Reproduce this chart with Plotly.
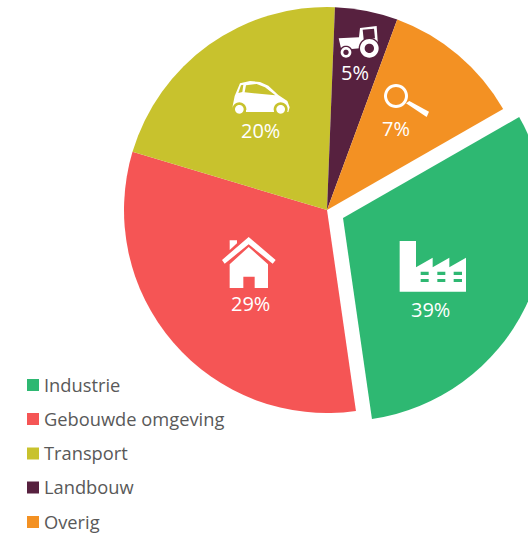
import math
import plotly.graph_objects as go

categories = ["Industrie", "Gebouwde omgeving", "Transport", "Landbouw", "Overig"]
drawn_shares = [31.0, 31.9, 21.0, 5.0, 11.1]
percent_labels = ["39%", "29%", "20%", "5%", "7%"]
colors = ["#2EB872", "#F55555", "#C8C22D", "#57213F", "#F39123"]
START_ANGLE = 60.2

W, H = 560, 533
R = 203
main_c = (327, 210)
pull_c = (343, 218)
label_pos = [(430.5, 309), (250, 303), (260, 130), (355, 72), (396, 129)]
legend_y = [385, 419, 453.5, 487.5, 522]
FONT = "Open Sans, sans-serif"
TRANSPARENT = "rgba(0,0,0,0)"


def px(x, y):
    return f"{x / W:.5f} {1 - y / H:.5f}"


def poly(points):
    return "M" + " L".join(px(x, y) for x, y in points) + " Z"


def circle_pts(cx, cy, r, n=36):
    return [(cx + r * math.cos(2 * math.pi * i / n), cy + r * math.sin(2 * math.pi * i / n)) for i in range(n)]


def z1(points):
    return [(210 + x / 3, 20 + y / 3) for x, y in points]


def z2(points):
    return [(210 + x / 3, 225 + y / 3) for x, y in points]


def icon(path, color="white"):
    return dict(type="path", xref="paper", yref="paper", path=path, fillcolor=color,
                line=dict(width=0), fillrule="evenodd", layer="above")


def domain(c):
    return dict(x=[(c[0] - R) / W, (c[0] + R) / W], y=[1 - (c[1] + R) / H, 1 - (c[1] - R) / H])


fig = go.Figure()
common = dict(labels=categories, values=drawn_shares, sort=False, direction="clockwise",
              rotation=START_ANGLE, textinfo="none", hoverinfo="label", showlegend=False,
              hole=0)
fig.add_trace(go.Pie(domain=domain(main_c),
                     marker=dict(colors=[TRANSPARENT] + colors[1:], line=dict(width=0)), **common))
fig.add_trace(go.Pie(domain=domain(pull_c),
                     marker=dict(colors=[colors[0]] + [TRANSPARENT] * 4, line=dict(width=0)), **common))

shapes = []
# tractor
shapes.append(icon(poly(z1([(450, 24), (500, 18), (503, 62), (506, 90), (450, 85), (425, 87), (393, 85), (386, 55), (447, 52)]))
                   + poly(z1([(458, 29), (492, 26), (495, 55), (461, 58)]))))
shapes.append(icon(poly(z1(circle_pts(478, 85, 32))), colors[3]))
shapes.append(icon(poly(z1(circle_pts(478, 85, 28))) + poly(z1(circle_pts(478, 85, 14)))))
shapes.append(icon(poly(z1(circle_pts(408, 97, 20))), colors[3]))
shapes.append(icon(poly(z1(circle_pts(408, 97, 16))) + poly(z1(circle_pts(408, 97, 8)))))
# car
shapes.append(icon(poly(z1([(68, 258), (74, 228), (90, 190), (120, 183), (150, 186), (175, 197), (205, 225),
                            (232, 243), (239, 262), (235, 276), (70, 276)]))
                   + poly(z1([(108, 196), (140, 192), (165, 202), (196, 226), (104, 217)]))
                   + poly(z1([(93, 196), (100, 194), (97, 216), (85, 219)]))))
for cx in (88, 212):
    shapes.append(icon(poly(z1(circle_pts(cx, 268, 21))), colors[2]))
    shapes.append(icon(poly(z1(circle_pts(cx, 268, 13)))))
shapes.append(icon(poly(z1([(108, 276), (190, 276), (190, 270), (108, 270)]))))
# magnifier
shapes.append(icon(poly(z1(circle_pts(558, 228, 36))) + poly(z1(circle_pts(558, 228, 27)))))
shapes.append(icon(poly(z1([(588, 250), (598, 243), (657, 275), (650, 291)]))))
# house
shapes.append(icon(poly(z2([(116, 36), (197, 105), (188, 116), (116, 58), (44, 116), (36, 105)]))))
shapes.append(icon(poly(z2([(59, 46), (81, 46), (81, 55), (59, 75)]))))
shapes.append(icon(poly(z2([(116, 66), (174, 118), (174, 189), (134, 189), (134, 155), (100, 155), (100, 189),
                            (59, 189), (59, 118)]))))
# factory
factory = poly(z2([(569, 48), (618, 48), (618, 127), (668, 98), (668, 127), (718, 98), (718, 127), (768, 98),
                   (768, 200), (569, 200)]))
for x0, x1 in ((632, 656), (682, 706), (731, 756)):
    for y0, y1 in ((140, 150), (162, 171)):
        factory += poly(z2([(x0, y0), (x1, y0), (x1, y1), (x0, y1)]))
shapes.append(icon(factory))

annotations = []
for label, (x, y) in zip(percent_labels, label_pos):
    annotations.append(dict(text=label, xref="paper", yref="paper", x=x / W, y=1 - y / H,
                            xanchor="center", yanchor="middle", showarrow=False,
                            font=dict(family=FONT, size=20, color="white")))
for name, color, y in zip(categories, colors, legend_y):
    shapes.append(dict(type="rect", xref="paper", yref="paper", x0=27 / W, x1=39 / W,
                       y0=1 - (y + 6) / H, y1=1 - (y - 6) / H, fillcolor=color, line=dict(width=0)))
    annotations.append(dict(text=name, xref="paper", yref="paper", x=41.5 / W, y=1 - (y - 1) / H,
                            xanchor="left", yanchor="middle", showarrow=False,
                            font=dict(family=FONT, size=18.3, color="#595959")))

fig.update_layout(width=W, height=H, margin=dict(l=0, r=0, t=0, b=0), paper_bgcolor="white",
                  shapes=shapes, annotations=annotations)

fig.write_html("out.html", config={"displayModeBar": False},
               post_script="document.body.style.margin='0';document.documentElement.style.overflow='hidden';document.body.style.overflow='hidden';")
